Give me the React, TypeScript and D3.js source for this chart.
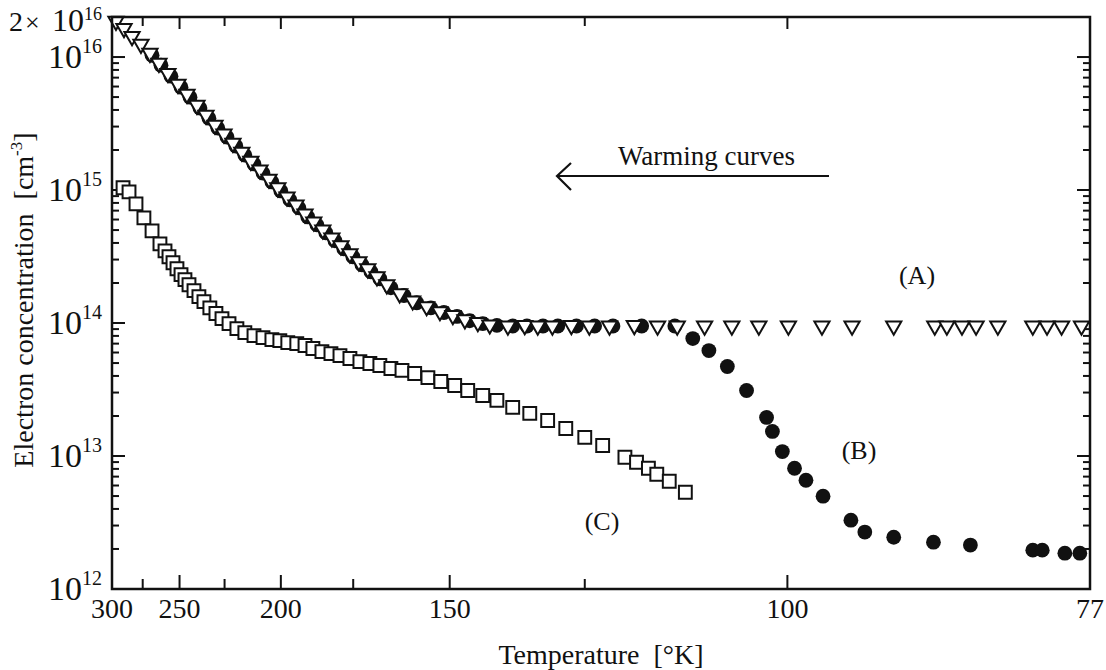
import React from 'react';
import * as d3 from 'd3';

// ---------- data ----------
const xTickMajor = [300, 250, 200, 150, 100, 77];
const xTickMinor = [275, 225, 175, 125];
const yMajorExp = [12, 13, 14, 15, 16];

// Curve (A): open triangles
const tempA = [296.5, 289.7, 283.2, 276.3, 269.7, 263.4, 257.4, 251.0, 245.5, 239.7, 234.7, 229.9, 225.3, 220.9, 216.7, 212.6, 208.6, 204.8, 201.2, 197.6, 194.2, 190.9, 187.8, 184.7, 181.7, 178.8, 176.0, 173.3, 170.7, 168.1, 165.4, 162.0, 158.7, 155.3, 152.2, 149.3, 146.7, 144.0, 141.6, 138.1, 135.0, 132.7, 130.2, 127.1, 124.3, 121.3, 117.8, 114.7, 112.2, 108.9, 105.8, 102.9, 99.9, 96.7, 94.0, 90.5, 87.3, 86.4, 85.3, 84.3, 82.8, 80.5, 79.6, 78.7, 77.5];
const concA = [1.86e16, 1.64e16, 1.43e16, 1.25e16, 1.07e16, 8.98e15, 7.55e15, 6.25e15, 5.26e15, 4.35e15, 3.66e15, 3.08e15, 2.64e15, 2.25e15, 1.93e15, 1.65e15, 1.42e15, 1.21e15, 1.04e15, 8.89e14, 7.73e14, 6.62e14, 5.77e14, 5.02e14, 4.37e14, 3.81e14, 3.32e14, 2.89e14, 2.56e14, 2.23e14, 1.94e14, 1.66e14, 1.47e14, 1.33e14, 1.22e14, 1.14e14, 1.06e14, 1.01e14, 0.97e14, 0.95e14, 0.96e14, 0.95e14, 0.95e14, 0.96e14, 0.95e14, 0.95e14, 0.96e14, 0.95e14, 0.95e14, 0.95e14, 0.95e14, 0.95e14, 0.95e14, 0.95e14, 0.95e14, 0.95e14, 0.95e14, 0.95e14, 0.95e14, 0.95e14, 0.95e14, 0.95e14, 0.95e14, 0.95e14, 0.95e14];

// Curve (B): filled circles
const tempB = [268.2, 262.0, 255.4, 249.1, 243.7, 238.0, 233.1, 228.4, 223.8, 219.5, 215.3, 211.2, 207.3, 203.6, 200.0, 196.5, 193.1, 189.9, 186.7, 183.7, 180.7, 177.9, 175.1, 172.4, 169.8, 167.3, 164.3, 160.9, 157.7, 154.3, 151.3, 148.4, 145.7, 143.0, 140.2, 137.2, 134.6, 131.8, 129.3, 126.3, 123.5, 120.8, 116.8, 112.5, 110.3, 108.4, 106.3, 104.2, 102.1, 101.5, 100.5, 99.3, 98.2, 96.6, 94.1, 92.9, 90.5, 87.4, 84.7, 80.5, 79.9, 78.5, 77.6];
const concB = [1.03e16, 8.68e15, 7.18e15, 5.93e15, 4.99e15, 4.13e15, 3.47e15, 2.92e15, 2.50e15, 2.14e15, 1.83e15, 1.57e15, 1.34e15, 1.15e15, 9.84e14, 8.43e14, 7.34e14, 6.28e14, 5.47e14, 4.77e14, 4.15e14, 3.61e14, 3.15e14, 2.74e14, 2.43e14, 2.15e14, 1.84e14, 1.61e14, 1.42e14, 1.30e14, 1.20e14, 1.12e14, 1.04e14, 0.99e14, 0.96e14, 0.95e14, 0.95e14, 0.95e14, 0.95e14, 0.95e14, 0.95e14, 0.95e14, 0.95e14, 0.95e14, 7.64e13, 6.21e13, 4.71e13, 3.11e13, 1.95e13, 1.53e13, 1.08e13, 8.09e12, 6.57e12, 4.99e12, 3.29e12, 2.68e12, 2.45e12, 2.25e12, 2.14e12, 1.96e12, 1.96e12, 1.86e12, 1.86e12];

// Curve (C): open squares
const tempC = [290.5, 285.6, 280.1, 274.1, 268.2, 262.7, 259.3, 256.7, 254.1, 251.6, 249.1, 246.7, 244.3, 241.4, 238.6, 235.8, 232.6, 229.4, 226.3, 222.8, 219.0, 215.3, 211.2, 207.3, 203.6, 200.4, 197.3, 193.9, 190.9, 188.1, 185.0, 182.0, 179.1, 176.0, 173.0, 170.1, 167.3, 164.3, 161.4, 158.2, 155.0, 152.0, 148.9, 146.1, 143.0, 140.2, 137.2, 134.1, 131.0, 128.0, 125.0, 122.3, 119.1, 117.5, 115.9, 114.8, 113.2, 111.2];
const concC = [1.04e15, 9.68e14, 7.87e14, 6.18e14, 4.93e14, 3.94e14, 3.49e14, 3.15e14, 2.84e14, 2.56e14, 2.31e14, 2.12e14, 1.94e14, 1.75e14, 1.58e14, 1.45e14, 1.30e14, 1.18e14, 1.08e14, 9.90e13, 9.08e13, 8.47e13, 8.04e13, 7.77e13, 7.51e13, 7.38e13, 7.13e13, 7.00e13, 6.77e13, 6.43e13, 6.10e13, 5.89e13, 5.69e13, 5.41e13, 5.13e13, 4.96e13, 4.79e13, 4.55e13, 4.40e13, 4.17e13, 3.89e13, 3.63e13, 3.39e13, 3.11e13, 2.85e13, 2.62e13, 2.32e13, 2.09e13, 1.85e13, 1.61e13, 1.38e13, 1.20e13, 9.78e12, 8.97e12, 8.09e12, 7.29e12, 6.46e12, 5.34e12];

const FONT = '"Liberation Serif", "Times New Roman", serif';

export default function App() {
  const L = 112, R = 1090, T = 17, B = 589;
  const x = d3.scaleLinear().domain([1 / 300, 1 / 77]).range([L, R]);
  const xT = (t: number) => x(1 / t);
  const y = d3.scaleLog().domain([1e12, 2e16]).range([B, T]);

  const tri = d3.symbol().type(d3.symbolTriangle).size(100)() as string;
  const sq = d3.symbol().type(d3.symbolSquare).size(165)() as string;

  const yMinor: number[] = [];
  for (let e = 12; e < 16; e++) for (let m = 2; m <= 9; m++) yMinor.push(m * Math.pow(10, e));

  const ink = '#111';

  return (
    <svg width={1106} height={670} style={{ position: 'absolute', left: 0, top: 0, background: '#fff' }}
      fontFamily={FONT}>
      <rect x={0} y={0} width={1106} height={670} fill="#fff" />

      {/* ticks x (bottom & top) */}
      {xTickMajor.filter(t => t !== 300 && t !== 77).map(t => (
        <g key={'xM' + t}>
          <line x1={xT(t)} x2={xT(t)} y1={B} y2={B - 14} stroke={ink} strokeWidth={2} />
          <line x1={xT(t)} x2={xT(t)} y1={T} y2={T + 12} stroke={ink} strokeWidth={2} />
        </g>
      ))}
      {xTickMinor.map(t => (
        <g key={'xm' + t}>
          <line x1={xT(t)} x2={xT(t)} y1={B} y2={B - 10} stroke={ink} strokeWidth={2} />
          <line x1={xT(t)} x2={xT(t)} y1={T} y2={T + 9} stroke={ink} strokeWidth={2} />
        </g>
      ))}
      {/* ticks y (left & right) */}
      {yMajorExp.map(e => (
        <g key={'yM' + e}>
          <line x1={L} x2={L + 13} y1={y(Math.pow(10, e))} y2={y(Math.pow(10, e))} stroke={ink} strokeWidth={2} />
          <line x1={R} x2={R - 13} y1={y(Math.pow(10, e))} y2={y(Math.pow(10, e))} stroke={ink} strokeWidth={2} />
        </g>
      ))}
      {yMinor.map((v, i) => (
        <g key={'ym' + i}>
          <line x1={L} x2={L + 7} y1={y(v)} y2={y(v)} stroke={ink} strokeWidth={2} />
          <line x1={R} x2={R - 7} y1={y(v)} y2={y(v)} stroke={ink} strokeWidth={2} />
        </g>
      ))}

      {/* data B: filled circles (under) */}
      {tempB.map((t, i) => (
        <circle key={'b' + i} cx={xT(t)} cy={y(concB[i])} r={7.4} fill={ink} />
      ))}
      {/* data A: open down-triangles */}
      {tempA.map((t, i) => (
        <path key={'a' + i} d={tri} transform={`translate(${xT(t)},${y(concA[i])}) rotate(180)`}
          fill="#fff" stroke={ink} strokeWidth={2} />
      ))}
      {/* data C: open squares */}
      {tempC.map((t, i) => (
        <path key={'c' + i} d={sq} transform={`translate(${xT(t)},${y(concC[i])})`}
          fill="#fff" stroke={ink} strokeWidth={2} />
      ))}

      {/* frame */}
      <rect x={L} y={T} width={R - L} height={B - T} fill="none" stroke={ink} strokeWidth={2.5} />

      {/* x tick labels */}
      {xTickMajor.map(t => (
        <text key={'xl' + t} x={xT(t)} y={618} fontSize={28} textAnchor="middle" fill={ink}>{t}</text>
      ))}

      {/* y tick labels */}
      {yMajorExp.map(e => (
        <text key={'yl' + e} x={102} y={y(Math.pow(10, e)) + 11} fontSize={34} textAnchor="end" fill={ink}>
          10<tspan fontSize={20} dy={-15}>{e}</tspan>
        </text>
      ))}
      <text x={9} y={31} fontSize={28} fill={ink}>2</text>
      <text x={25} y={31} fontSize={26} fill={ink}>×</text>
      <text x={102} y={31} fontSize={32} textAnchor="end" fill={ink}>
        10<tspan fontSize={18} dy={-11}>16</tspan>
      </text>

      {/* axis titles */}
      <text x={601} y={664} fontSize={28} textAnchor="middle" fill={ink} style={{ whiteSpace: 'pre' }}>Temperature  [°K]</text>
      <text transform="translate(33,300) rotate(-90)" fontSize={28} textAnchor="middle" fill={ink}
        style={{ whiteSpace: 'pre' }}>
        Electron concentration  [cm<tspan fontSize={17} dy={-11}>-3</tspan><tspan dy={11}>]</tspan>
      </text>

      {/* annotations */}
      <text x={618} y={165} fontSize={27} fill={ink}>Warming curves</text>
      <line x1={829} x2={557} y1={176} y2={176} stroke={ink} strokeWidth={2.2} />
      <polyline points="571,163 557,176 571,190" fill="none" stroke={ink} strokeWidth={2.2} />
      <text x={917} y={284} fontSize={26} textAnchor="middle" fill={ink}>(A)</text>
      <text x={859} y={459} fontSize={26} textAnchor="middle" fill={ink}>(B)</text>
      <text x={602} y={530} fontSize={26} textAnchor="middle" fill={ink}>(C)</text>
    </svg>
  );
}
